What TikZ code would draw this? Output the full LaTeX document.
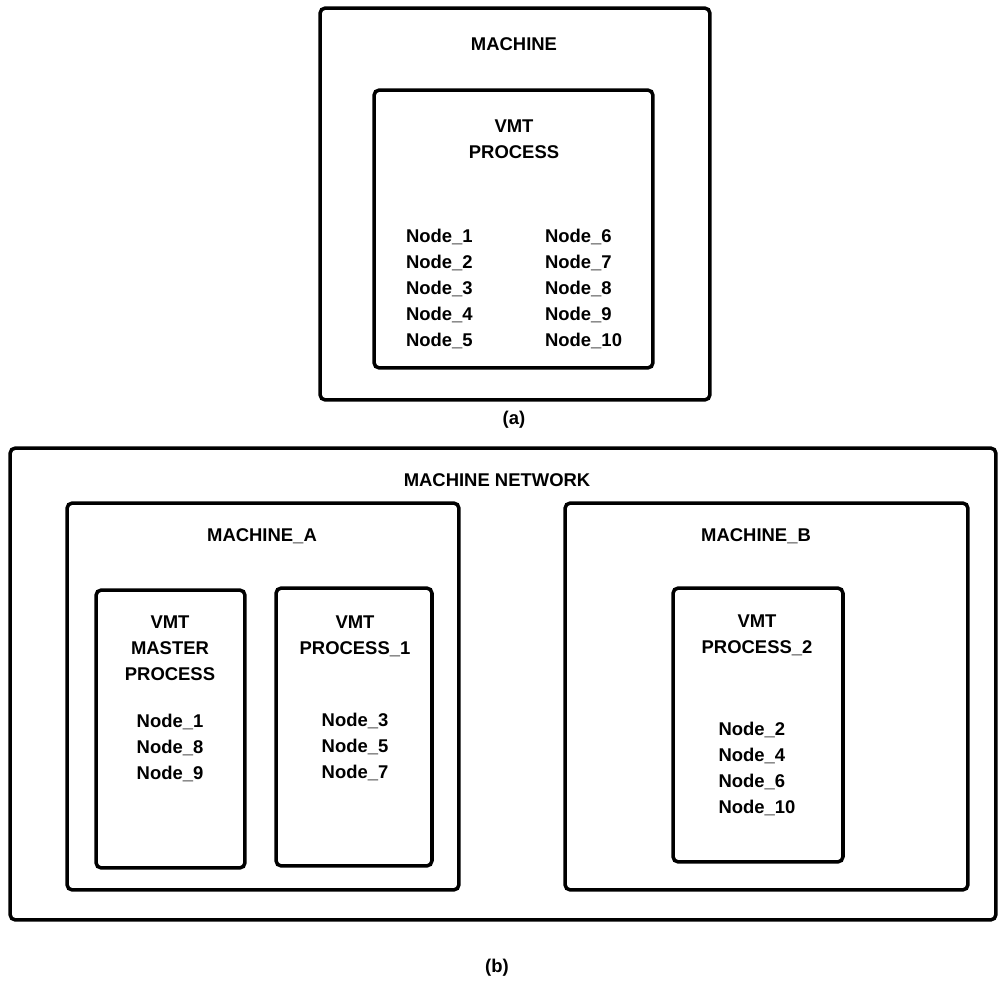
\documentclass[tikz,border=0pt]{standalone}
\usepackage{fontspec}
\setmainfont{Liberation Sans}
\usepackage{tikz}
\usetikzlibrary{positioning}

\begin{document}
\begin{tikzpicture}[
  x=0.02cm, y=-0.02cm,
  font=\bfseries\fontsize{10.5}{14.8}\selectfont,
  box/.style={draw, line width=2pt, rounded corners=3pt, inner sep=0pt},
  txt/.style={align=center, inner sep=1pt},
  nodelist/.style={align=left, inner sep=1pt}
]
\useasboundingbox (0,0) rectangle (999,989);

% (a) one machine
\node[box, minimum width=7.8cm, minimum height=7.84cm] (machine) at (515,204) {};
\node[box, minimum width=5.58cm, minimum height=5.56cm] (vmt) at (513.5,229) {};
\node[txt] (machinetxt) at (514,44) {MACHINE};
\node[txt] (vmttxt) at (514,139) {VMT\\PROCESS};
\node[nodelist, anchor=west] (lista) at (404,289) {Node\_1\\Node\_2\\Node\_3\\Node\_4\\Node\_5};
\node[nodelist, anchor=west] (listb) at (543,289) {Node\_6\\Node\_7\\Node\_8\\Node\_9\\Node\_10};
\node[txt] (capa) at (514,420) {(a)};

% (b) machine network
\node[box, minimum width=19.72cm, minimum height=9.44cm] (net) at (503,684) {};
\node[box, minimum width=7.84cm, minimum height=7.74cm] (macha) at (263,696.5) {};
\node[box, minimum width=2.98cm, minimum height=5.56cm] (master) at (170.5,729) {};
\node[box, minimum width=3.12cm, minimum height=5.56cm] (procone) at (354,727) {};
\node[box, minimum width=8.06cm, minimum height=7.74cm] (machb) at (766.5,696.5) {};
\node[box, minimum width=3.4cm, minimum height=5.48cm] (proctwo) at (758,725) {};

\node[txt] (nettxt) at (497,480) {MACHINE NETWORK};
\node[txt] (machatxt) at (262,536) {MACHINE\_A};
\node[txt] (mastertxt) at (170,648) {VMT\\MASTER\\PROCESS};
\node[nodelist] (masterlist) at (170,748) {Node\_1\\Node\_8\\Node\_9};
\node[txt] (proconetxt) at (355,636) {VMT\\PROCESS\_1};
\node[nodelist] (proconelist) at (355,747) {Node\_3\\Node\_5\\Node\_7};
\node[txt] (machbtxt) at (756,536) {MACHINE\_B};
\node[txt] (proctwotxt) at (757,635) {VMT\\PROCESS\_2};
\node[nodelist] (proctwolist) at (757,769) {Node\_2\\Node\_4\\Node\_6\\Node\_10};
\node[txt] (capb) at (497,968) {(b)};
\end{tikzpicture}
\end{document}
